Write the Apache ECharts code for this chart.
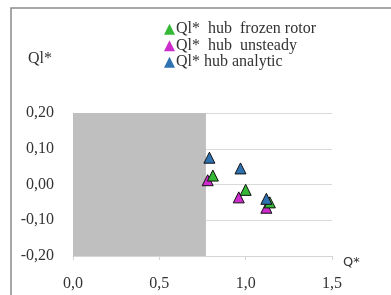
<!DOCTYPE html>
<html>
<head>
<meta charset="utf-8">
<script src="https://cdn.jsdelivr.net/npm/echarts@6/dist/echarts.min.js"></script>
<style>
  html, body { margin: 0; padding: 0; background: #fff; }
  #chart { width: 391px; height: 295px; }
</style>
</head>
<body>
<div id="chart"></div>
<script>
// values
const seriesNames = ['Ql*  hub  frozen rotor', 'Ql*  hub  unsteady', 'Ql* hub analytic']
const frozenQ = [0.81, 1.00, 1.14]
const frozenQl = [0.025, -0.015, -0.05]
const unsteadyQ = [0.78, 0.96, 1.12]
const unsteadyQl = [0.012, -0.036, -0.065]
const analyticQ = [0.79, 0.97, 1.12]
const analyticQl = [0.075, 0.045, -0.04]
// grey block hiding the low Q* part
const maskFrom = [0, -0.2]
const maskTo = [0.77, 0.2]

const colors = ['#35b835', '#cc2ccc', '#2e72b2']
const serif = 'Liberation Serif'
const legendText = { fontFamily: serif, fontSize: 16, color: '#333', lineHeight: 16.5, padding: [0, 0, 0, -4] }

function pairs (xs, ys) {
  return xs.map((x, i) => [x, ys[i]])
}

function triSeries (name, data, color) {
  return {
    name: name,
    type: 'scatter',
    symbol: 'triangle',
    symbolSize: 11,
    itemStyle: { color: color, borderColor: '#111', borderWidth: 1, opacity: 1 },
    data: data
  }
}

const chart = echarts.init(document.getElementById('chart'))
chart.setOption({
  animation: false,
  graphic: [{
    type: 'rect',
    shape: { x: 11, y: 8, width: 420, height: 320 },
    style: { fill: 'none', stroke: '#8a8a8a', lineWidth: 1.5 },
    silent: true
  }],
  legend: {
    orient: 'vertical',
    left: 159,
    top: 16,
    itemWidth: 11,
    itemHeight: 11,
    itemGap: 0,
    data: seriesNames.map((n, i) => ({
      name: n,
      icon: 'triangle',
      itemStyle: { color: colors[i], borderWidth: 0 },
      textStyle: legendText
    })),
    textStyle: legendText
  },
  grid: { left: 73, top: 113, right: 59, bottom: 39 },
  xAxis: {
    type: 'value',
    min: 0,
    max: 1.5,
    interval: 0.5,
    name: 'Q*',
    nameLocation: 'end',
    nameGap: 11,
    nameTextStyle: { fontFamily: 'DejaVu Sans', fontSize: 13, color: '#333', verticalAlign: 'top' },
    axisLine: { onZero: false, lineStyle: { color: '#d4d4d4', width: 1 } },
    axisTick: { show: true, length: 4, lineStyle: { color: '#d4d4d4' } },
    splitLine: { show: false },
    axisLabel: {
      margin: 20,
      fontFamily: serif,
      fontSize: 16,
      color: '#333',
      formatter: v => v.toFixed(1).replace('.', ',')
    }
  },
  yAxis: {
    type: 'value',
    min: -0.2,
    max: 0.2,
    interval: 0.1,
    name: 'Ql*',
    nameLocation: 'end',
    nameGap: 46,
    nameTextStyle: { fontFamily: serif, fontSize: 16, color: '#333', align: 'right', padding: [0, 21, 0, 0] },
    axisLine: { show: false },
    axisTick: { show: false },
    splitLine: { lineStyle: { color: '#d9d9d9', width: 1 } },
    axisLabel: {
      margin: 19,
      fontFamily: serif,
      fontSize: 16,
      color: '#333',
      formatter: v => v.toFixed(2).replace('.', ',')
    }
  },
  series: [
    triSeries(seriesNames[1], pairs(unsteadyQ, unsteadyQl), colors[1]),
    triSeries(seriesNames[0], pairs(frozenQ, frozenQl), colors[0]),
    triSeries(seriesNames[2], pairs(analyticQ, analyticQl), colors[2]),
    {
      name: 'mask',
      type: 'scatter',
      data: [],
      z: 10,
      markArea: {
        silent: true,
        itemStyle: { color: '#bfbfbf', opacity: 1 },
        data: [[{ coord: maskFrom }, { coord: maskTo }]]
      }
    }
  ]
})
</script>
</body>
</html>
